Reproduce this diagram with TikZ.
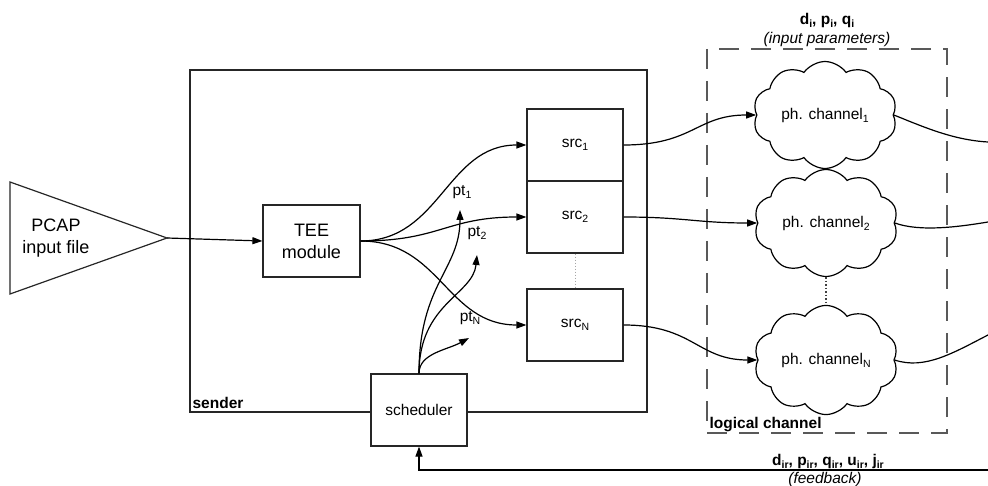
\documentclass[tikz,border=0pt]{standalone}
\usepackage{fontspec}
\setmainfont{Liberation Sans}
\usetikzlibrary{arrows.meta,shapes.symbols}
\newcommand\sbs[1]{\raisebox{-0.2em}{\fontsize{10.5}{12}\selectfont #1}}
\tikzset{
  boxnode/.style={draw=black!85, rectangle, inner sep=0pt, minimum width=96pt, minimum height=72pt, fill=white, align=center},
  cloudnode/.style={draw, cloud, cloud puffs=10, cloud puff arc=110, aspect=1.35, minimum width=144pt, minimum height=106pt, inner sep=0pt, fill=white},
  conn/.style={line width=1.2pt, -{Triangle[length=10pt,width=7pt]}},
  plain/.style={line width=1.2pt},
  lbl/.style={inner sep=0pt, align=center},
  bigtext/.style={font=\fontsize{18}{22}\selectfont},
}
\begin{document}
\begin{tikzpicture}[x=1pt,y=-1pt, font=\fontsize{15.5}{22}\selectfont, line width=1.2pt]
\useasboundingbox (0,0) rectangle (988,486);
% sender box
\draw[black!85] (190,70) rectangle (647,412);
\node[lbl, anchor=west, font=\fontsize{15.5}{18}\selectfont\bfseries] (senderlbl) at (192,403) {sender};
% logical channel box
\draw[black!65, line width=1.5pt, dash pattern=on 20pt off 12pt] (707,49) rectangle (947,433);
\node[lbl, anchor=west, font=\fontsize{15.5}{18}\selectfont\bfseries] (logiclbl) at (709,425) {logical channel};
% PCAP
\coordinate (pcapTip) at (167,238);
\draw[black!85] (10,182) -- (pcapTip) -- (10,294) -- cycle;
\node[lbl, bigtext] (pcap) at (56,238) {PCAP\\input file};
% TEE
\node[boxnode, bigtext, minimum width=97pt] (tee) at (311.5,241) {TEE\\module};
% sources
\node[boxnode] (src1) at (575,145) {src\sbs{1}};
\node[boxnode] (src2) at (575,217) {src\sbs{2}};
\node[boxnode] (srcN) at (575,325) {src\sbs{N}};
% scheduler
\node[boxnode] (sched) at (419,410) {scheduler};
% clouds
\node[cloudnode] (c1) at (825,115) {ph. channel\sbs{1}};
\node[cloudnode] (c2) at (826,223) {ph. channel\sbs{2}};
\node[cloudnode] (cN) at (826,360) {ph. channel\sbs{N}};
% dotted links
\draw[black!35, line width=1pt, dotted] (src2.south) -- (srcN.north);
\draw[black!75, line width=1.5pt, dotted] (c2.south) -- (cN.north);
% PCAP to TEE
\draw[conn] (pcapTip) -- (tee.west);
% TEE to sources
\draw[conn] (tee.east) .. controls +(80,0) and +(-80,0) .. (src1.west);
\draw[conn] (tee.east) .. controls +(80,0) and +(-80,0) .. (src2.west);
\draw[conn] (tee.east) .. controls +(80,0) and +(-80,0) .. (srcN.west);
% scheduler arrows
\coordinate (p1) at (460,210);
\coordinate (p2) at (477,255);
\coordinate (p3) at (469,338);
\draw[conn] (sched.north) .. controls +(0,-90) and +(0,60) .. (p1);
\draw[conn] (sched.north) .. controls +(0,-70) and +(-4,40) .. (p2);
\draw[conn] (sched.north) .. controls +(0,-20) and +(-22,12) .. (p3);
\node[lbl] (pt1) at (462,192) {pt\sbs{1}};
\node[lbl] (pt2) at (477,233) {pt\sbs{2}};
\node[lbl] (ptN) at (470,318) {pt\sbs{N}};
% sources to clouds
\draw[conn] (src1.east) .. controls +(70,0) and +(-60,0) .. (c1.west);
\draw[conn] (src2.east) .. controls +(60,0) and +(-60,0) .. (c2.west);
\draw[conn] (srcN.east) .. controls +(70,0) and +(-60,0) .. (cN.west);
% clouds to right edge
\coordinate (o1) at (988,142);
\coordinate (o2) at (988,222);
\coordinate (o3) at (988,335);
\draw[plain] (c1.east) .. controls +(30,12) and +(-35,-2) .. (o1);
\draw[plain] (c2.east) .. controls +(25,9) and +(-30,5) .. (o2);
\draw[plain] (cN.east) .. controls +(30,10) and +(-35,18) .. (o3);
% feedback
\coordinate (fb) at (988,470);
\draw[conn] (fb) -| (sched.south);
\node[lbl, font=\fontsize{15.5}{18}\selectfont\bfseries] (fbvars) at (828,461) {d\sbs{ir}, p\sbs{ir}, q\sbs{ir}, u\sbs{ir}, j\sbs{ir}};
\node[lbl, font=\fontsize{15.5}{18}\selectfont\itshape] (fbtxt) at (825,479) {(feedback)};
% input parameters
\node[lbl, font=\fontsize{15.5}{18}\selectfont\bfseries] (invars) at (827,20) {d\sbs{i}, p\sbs{i}, q\sbs{i}};
\node[lbl, font=\fontsize{15.5}{18}\selectfont\itshape] (intxt) at (827,39) {(input parameters)};
\end{tikzpicture}
\end{document}
